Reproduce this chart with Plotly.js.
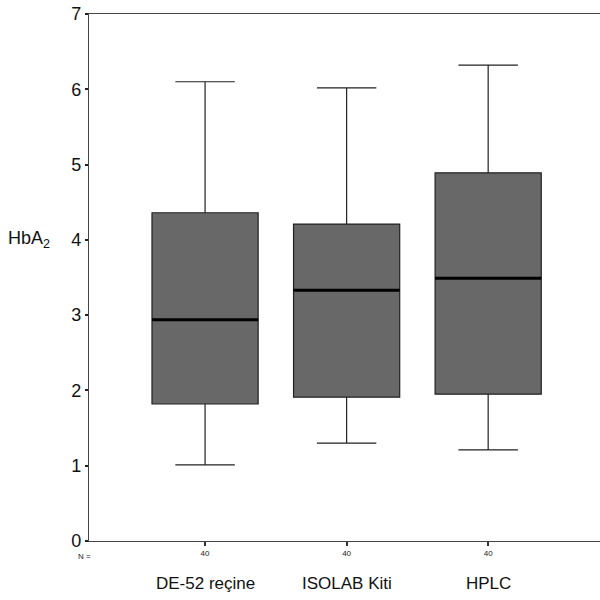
<!DOCTYPE html>
<html>
<head>
<meta charset="utf-8">
<script src="https://cdn.plot.ly/plotly-3.0.1.min.js"></script>
<style>html,body{margin:0;padding:0;background:#fff;}#chart{width:600px;height:600px;}</style>
</head>
<body>
<div id="chart"></div>
<script>
var categories = ["DE-52 reçine", "ISOLAB Kiti", "HPLC"];
var nLabels = ["40", "40", "40"];
var q1 = [1.82, 1.91, 1.95];
var median = [2.94, 3.33, 3.49];
var q3 = [4.36, 4.21, 4.89];
var lowerWhisker = [1.01, 1.30, 1.21];
var upperWhisker = [6.10, 6.02, 6.32];
var yTicks = [0, 1, 2, 3, 4, 5, 6, 7];

var FONT = '"Liberation Sans Narrow", "Liberation Sans", Arial, sans-serif';
var boxHalf = 0.375;
var xs = categories.map(function(_, i){ return i; });

var traces = [{
  type: 'box',
  x: xs,
  q1: q1, median: median, q3: q3,
  lowerfence: lowerWhisker, upperfence: upperWhisker,
  width: boxHalf * 2,
  whiskerwidth: 0.56,
  fillcolor: '#686868',
  line: {color: '#222', width: 1.2},
  boxpoints: false,
  hoverinfo: 'skip',
  showlegend: false
}];
median.forEach(function(m, i){
  traces.push({
    type: 'scatter', mode: 'lines',
    x: [i - boxHalf, i + boxHalf], y: [m, m],
    line: {color: '#000', width: 3},
    hoverinfo: 'skip', showlegend: false
  });
});

var annotations = categories.map(function(c, i){
  return {x: i, y: 0, xref: 'x', yref: 'paper', text: c, showarrow: false,
    yshift: -42, yanchor: 'middle', xanchor: 'center',
    font: {family: FONT, size: 17, color: '#111'}};
});
annotations.push({x: 0, y: 0, xref: 'paper', yref: 'paper', text: 'N =', showarrow: false,
  xanchor: 'left', yanchor: 'top', xshift: -13, yshift: -9,
  font: {family: FONT, size: 8, color: '#222'}});
annotations.push({x: 0, y: 4, xref: 'paper', yref: 'y', text: 'HbA<sub>2</sub>', showarrow: false,
  xanchor: 'center', yanchor: 'middle', xshift: -60,
  font: {family: FONT, size: 18, color: '#111'}});

var layout = {
  width: 600, height: 600,
  margin: {l: 89, r: 0, t: 14, b: 59},
  paper_bgcolor: '#fff', plot_bgcolor: '#fff',
  xaxis: {
    range: [-0.82, 2.79],
    tickvals: xs, ticktext: nLabels,
    ticks: 'outside', ticklen: 4, tickwidth: 2, tickcolor: '#333',
    showline: true, linecolor: '#444', linewidth: 1.2, mirror: true,
    showgrid: false, zeroline: false,
    tickfont: {family: FONT, size: 8, color: '#222'}
  },
  yaxis: {
    range: [0, 7],
    tickvals: yTicks,
    ticks: 'outside', ticklen: 3, tickwidth: 2, tickcolor: '#222',
    showline: true, linecolor: '#444', linewidth: 1.2, mirror: true,
    showgrid: false, zeroline: false,
    tickfont: {family: FONT, size: 18, color: '#111'}
  },
  annotations: annotations
};

Plotly.newPlot('chart', traces, layout, {staticPlot: true});
</script>
</body>
</html>
